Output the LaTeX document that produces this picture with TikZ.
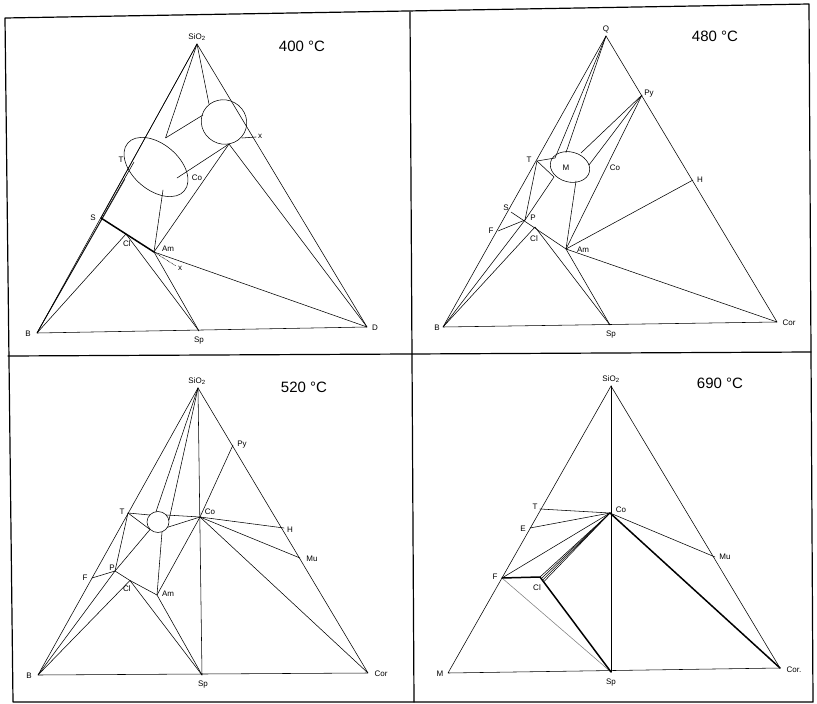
\documentclass[tikz,border=0pt]{standalone}
\usepackage{fontspec}
\setmainfont{Liberation Sans}
\begin{document}
\begin{tikzpicture}[x=1pt,y=-1pt,
  ln/.style={line width=0.55pt},
  thk/.style={line width=1.5pt},
  frm/.style={line width=1.2pt},
  lab/.style={font=\fontsize{8}{9}\selectfont, inner sep=0.5pt},
  temp/.style={font=\fontsize{15}{17}\selectfont, inner sep=0pt},
  line join=round, line cap=round]
\useasboundingbox (0,0) rectangle (817,704);
\fill[white] (0,0) rectangle (817,704);
% frame
\draw[frm] (5,18) -- (809,4) -- (813,702) -- (13,702) -- cycle;
\draw[frm] (410,12) -- (414,702);
\draw[frm] (8,356) -- (811,352);

% ================= Panel 1 : 400 C =================
\coordinate (aQ) at (197,44);
\coordinate (aB) at (37,333);
\coordinate (aD) at (367,327);
\coordinate (aSp) at (199,331);
\coordinate (aT) at (134,162);
\coordinate (aS) at (101,218);
\coordinate (aCl) at (126,234);
\coordinate (aAm) at (154,252);
\coordinate (aX) at (176,266);
\coordinate (aXp) at (256,137);
\coordinate (aE1top) at (165.5,138);
\coordinate (aE1rt) at (177,178);
\coordinate (aE1bot) at (163,190);
\coordinate (aE1lf) at (125,179);
\coordinate (aE2lf) at (203,115);
\coordinate (aE2top) at (209,104);
\coordinate (aE2bot) at (229,144);
\coordinate (aE2rt) at (242,138);
\draw[ln, rotate around={-40:(156,167)}] (156,167) ellipse (37 and 23);
\draw[ln, rotate around={-30:(224,122)}] (224,122) ellipse (23 and 22);
\draw[ln] (aQ) -- (aB) -- (aD) -- cycle;
\draw[ln] (aQ) -- (aS);
\draw[ln] (aB) -- (aT);
\draw[ln] (aB) -- (aE1lf);
\draw[ln] (aQ) -- (aE1top) -- (aE2lf);
\draw[ln] (aQ) -- (aE2top);
\draw[ln] (aE1rt) -- (aE2bot);
\draw[ln] (aE1bot) -- (aAm);
\draw[ln] (aE2bot) -- (aAm);
\draw[ln] (aE2bot) -- (aD);
\draw[ln] (aE2rt) -- (aXp);
\draw[thk] (aS) -- (aAm);
\draw[ln] (aB) -- (aCl);
\draw[ln] (aCl) -- (aSp);
\draw[ln] (aAm) -- (aSp);
\draw[ln] (aAm) -- (aD);
\draw[ln, densely dotted] (aAm) -- (aX);
\node[lab] (laQ) at (197,37) {SiO\textsubscript{2}};
\node[temp] (laTemp) at (302,46) {400 °C};
\node[lab] (laT) at (121,160) {T};
\node[lab] (laS) at (93,218) {S};
\node[lab] (laCl) at (127,244) {Cl};
\node[lab] (laAm) at (168,249) {Am};
\node[lab] (laCo) at (197,178) {Co};
\node[lab] (laXp) at (260,136) {x};
\node[lab] (laX) at (180,268) {x};
\node[lab] (laB) at (28,334) {B};
\node[lab] (laSp) at (199,341) {Sp};
\node[lab] (laD) at (375,328) {D};

% ================= Panel 2 : 480 C =================
\coordinate (bQ) at (606,36);
\coordinate (bB) at (443,327);
\coordinate (bCor) at (777,322);
\coordinate (bSp) at (610,325);
\coordinate (bPy) at (642,95);
\coordinate (bH) at (693,180);
\coordinate (bT) at (537,161);
\coordinate (bS) at (511,212);
\coordinate (bF) at (498,231);
\coordinate (bP) at (525,220);
\coordinate (bCl) at (535,227);
\coordinate (bAm) at (566,249);
\coordinate (bMt) at (566,152.5);
\coordinate (bMtl) at (555,158);
\coordinate (bMbl) at (554,177);
\coordinate (bMtr) at (581,153);
\coordinate (bMr) at (589,165);
\coordinate (bMb) at (576,181);
\draw[ln, rotate around={-15:(570,167)}] (570,167) ellipse (20 and 15);
\draw[ln] (bQ) -- (bB) -- (bCor) -- cycle;
\draw[ln] (bQ) -- (bMtl);
\draw[ln] (bQ) -- (bMt);
\draw[ln] (bT) -- (bMtl);
\draw[ln] (bT) -- (bMbl);
\draw[ln] (bMbl) -- (bP);
\draw[ln] (bT) -- (bP);
\draw[ln] (bPy) -- (bMtr);
\draw[ln] (bPy) -- (bMr);
\draw[ln] (bMb) -- (bAm);
\draw[ln] (bPy) -- (bAm);
\draw[ln] (bH) -- (bAm);
\draw[ln] (bAm) -- (bCor);
\draw[ln] (bAm) -- (bSp);
\draw[ln] (bCl) -- (bSp);
\draw[ln] (bS) -- (bAm);
\draw[ln] (bF) -- (bP);
\draw[ln] (bB) -- (bP);
\draw[ln] (bB) -- (bCl);
\node[lab] (lbQ) at (606,29) {Q};
\node[temp] (lbTemp) at (715,36) {480 °C};
\node[lab] (lbPy) at (649,94) {Py};
\node[lab] (lbT) at (529,160) {T};
\node[lab] (lbM) at (566,168) {M};
\node[lab] (lbCo) at (615,168) {Co};
\node[lab] (lbH) at (700,180) {H};
\node[lab] (lbS) at (506,208) {S};
\node[lab] (lbF) at (491,231) {F};
\node[lab] (lbP) at (533,218) {P};
\node[lab] (lbCl) at (534,239) {Cl};
\node[lab] (lbAm) at (583,250) {Am};
\node[lab] (lbB) at (437,328) {B};
\node[lab] (lbSp) at (611,335) {Sp};
\node[lab] (lbCor) at (789,323) {Cor};

% ================= Panel 3 : 520 C =================
\coordinate (cQ) at (198,388);
\coordinate (cB) at (38,675);
\coordinate (cCor) at (368,673);
\coordinate (cSp) at (202,675);
\coordinate (cPy) at (233,445);
\coordinate (cH) at (284,528);
\coordinate (cMu) at (300,558);
\coordinate (cCo) at (200,517);
\coordinate (cT) at (128,513);
\coordinate (cP) at (115,571);
\coordinate (cF) at (92,578);
\coordinate (cCl) at (130,580.5);
\coordinate (cAm) at (157,595);
\coordinate (cEt) at (156,511.7);
\coordinate (cEtl) at (149.8,515);
\coordinate (cEtr) at (166.2,515);
\coordinate (cEr) at (169,520);
\coordinate (cEbl) at (150,529.5);
\coordinate (cErb) at (167.5,527.3);
\coordinate (cEb) at (162,532);
\draw[ln] (158,522) ellipse (11 and 10.5);
\draw[ln] (cQ) -- (cB) -- (cCor) -- cycle;
\draw[ln] (cQ) -- (cSp);
\draw[ln] (cQ) -- (cEt);
\draw[ln] (cQ) -- (cEr);
\draw[ln] (cT) -- (cEtl);
\draw[ln] (cEtr) -- (cCo);
\draw[ln] (cT) -- (cEbl);
\draw[ln] (cEbl) -- (cP);
\draw[ln] (cErb) -- (cCo);
\draw[ln] (cEb) -- (cAm);
\draw[ln] (cCo) -- (cPy);
\draw[ln] (cCo) -- (cH);
\draw[ln] (cCo) -- (cMu);
\draw[ln] (cCo) -- (cCor);
\draw[ln] (cCo) -- (cAm);
\draw[ln] (cT) -- (cP);
\draw[ln] (cF) -- (cP);
\draw[ln] (cP) -- (cCl) -- (cAm);
\draw[ln] (cB) -- (cP);
\draw[ln] (cB) -- (cCl);
\draw[ln] (cCl) -- (cSp);
\draw[ln] (cAm) -- (cSp);
\node[lab] (lcQ) at (197,381) {SiO\textsubscript{2}};
\node[temp] (lcTemp) at (304,387) {520 °C};
\node[lab] (lcPy) at (242,445) {Py};
\node[lab] (lcT) at (122,512) {T};
\node[lab] (lcCo) at (210,512) {Co};
\node[lab] (lcH) at (290,530) {H};
\node[lab] (lcMu) at (312,559) {Mu};
\node[lab] (lcP) at (112,568) {P};
\node[lab] (lcF) at (85,578) {F};
\node[lab] (lcCl) at (127,589) {Cl};
\node[lab] (lcAm) at (168,594) {Am};
\node[lab] (lcB) at (29,676) {B};
\node[lab] (lcSp) at (203,685) {Sp};
\node[lab] (lcCor) at (381,674) {Cor};

% ================= Panel 4 : 690 C =================
\coordinate (dQ) at (611,386);
\coordinate (dM) at (448,673);
\coordinate (dCor) at (780,668);
\coordinate (dSp) at (611,672);
\coordinate (dCo) at (610,513);
\coordinate (dT) at (540,509);
\coordinate (dE) at (530,528);
\coordinate (dF) at (502,578);
\coordinate (dCl) at (540,577);
\coordinate (dMu) at (715,557);
\coordinate (dC1) at (541.4,578.5);
\coordinate (dC2) at (542.7,580);
\coordinate (dC3) at (544,581.5);
\draw[ln] (dQ) -- (dM) -- (dCor) -- cycle;
\draw[ln] (dQ) -- (dSp);
\draw[ln] (dT) -- (dCo);
\draw[ln] (dE) -- (dCo);
\draw[ln] (dF) -- (dCo);
\draw[ln] (dCl) -- (dCo);
\draw[ln] (dC1) -- (dCo);
\draw[ln] (dC2) -- (dCo);
\draw[ln] (dC3) -- (dCo);
\draw[ln, gray] (dF) -- (dSp);
\draw[thk] (dF) -- (dCl) -- (dSp);
\draw[ln] (dCo) -- (dMu);
\draw[thk] (dCo) -- (dCor);
\node[lab] (ldQ) at (611,379) {SiO\textsubscript{2}};
\node[temp] (ldTemp) at (720,383) {690 °C};
\node[lab] (ldT) at (535,507) {T};
\node[lab] (ldCo) at (621,510) {Co};
\node[lab] (ldE) at (523,529) {E};
\node[lab] (ldF) at (495,577) {F};
\node[lab] (ldCl) at (537,588) {Cl};
\node[lab] (ldMu) at (725,557) {Mu};
\node[lab] (ldM) at (440,674) {M};
\node[lab] (ldSp) at (611,683) {Sp};
\node[lab] (ldCor) at (794,670) {Cor.};
\end{tikzpicture}
\end{document}
